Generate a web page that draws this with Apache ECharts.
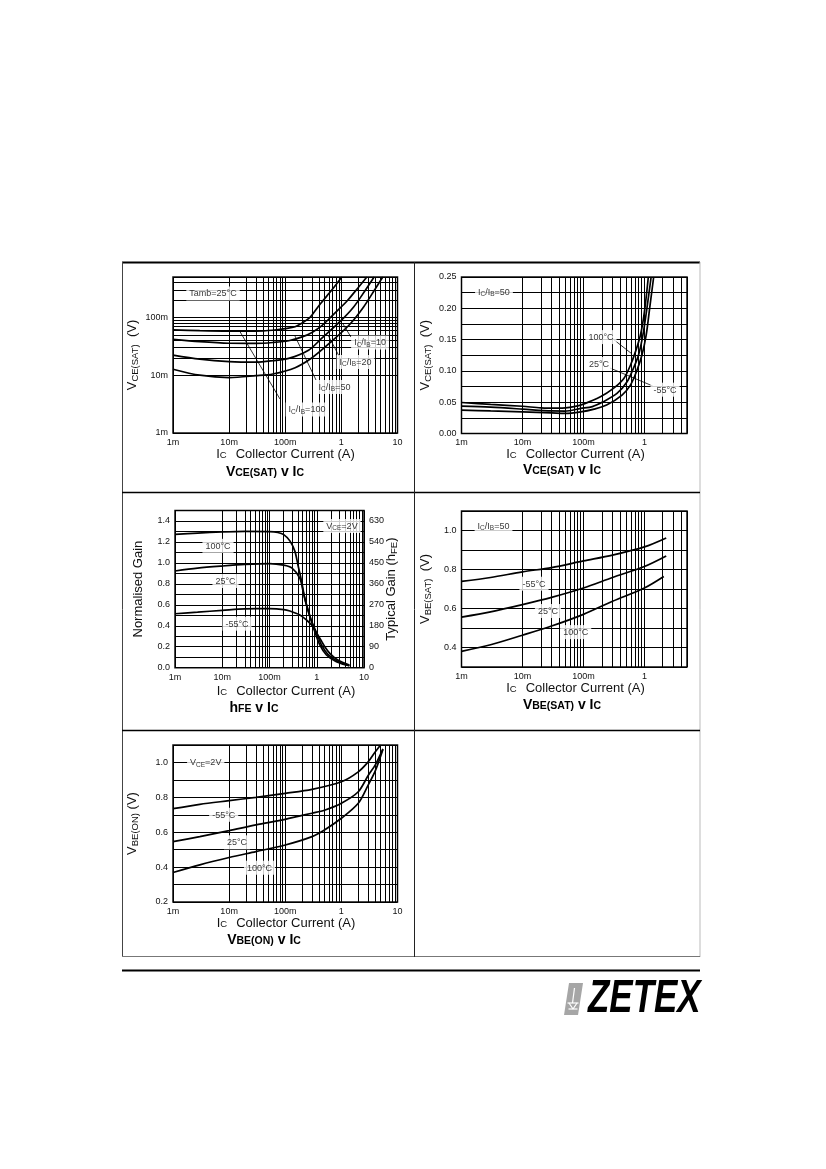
<!DOCTYPE html>
<html>
<head>
<meta charset="utf-8" />
<title>Typical characteristics</title>
<script src="https://cdn.jsdelivr.net/npm/echarts@6.0.0/dist/echarts.min.js"></script>
<style>
  html, body { margin: 0; padding: 0; background: #fff; }
  #page { width: 826px; height: 1169px; }
</style>
</head>
<body>
<div id="page"></div>
<script>
// ---- values: [Ic (A), value] ----
var decadeLabels = ['1m', '10m', '100m', '1', '10'];

// VCE(SAT) v IC, Tamb = 25°C (log / log)
var vceSatRatio100 = [[0.001,0.061],[0.003,0.059],[0.01,0.058],[0.03,0.058],[0.06,0.060],[0.1,0.064],[0.15,0.069],[0.2,0.08],[0.26,0.095],[0.3,0.11],[0.42,0.17],[0.68,0.30],[1.02,0.5]];
var vceSatRatio50 = [[0.001,0.0418],[0.003,0.038],[0.01,0.0357],[0.03,0.0355],[0.06,0.0368],[0.115,0.0395],[0.2,0.046],[0.3,0.055],[0.45,0.072],[0.72,0.112],[1.25,0.19],[2.0,0.33],[2.84,0.5]];
var vceSatRatio20 = [[0.001,0.0223],[0.003,0.019],[0.01,0.0172],[0.03,0.0168],[0.06,0.0178],[0.115,0.0195],[0.26,0.027],[0.43,0.042],[0.95,0.085],[1.64,0.15],[2.64,0.29],[3.83,0.5]];
var vceSatRatio10 = [[0.001,0.0127],[0.003,0.0100],[0.01,0.0091],[0.03,0.0098],[0.06,0.0105],[0.15,0.0135],[0.3,0.020],[0.7,0.040],[1.43,0.077],[2.47,0.15],[4.0,0.31],[5.47,0.5]];

// VCE(SAT) v IC, IC/IB = 50
var vceSatHot = [[0.001,0.0495],[0.003,0.0465],[0.01,0.0435],[0.02,0.041],[0.04,0.0405],[0.07,0.043],[0.1,0.047],[0.19,0.0586],[0.31,0.072],[0.46,0.088],[0.59,0.109],[0.71,0.13],[0.86,0.157],[1.0,0.194],[1.16,0.25]];
var vceSatRoom = [[0.001,0.0437],[0.003,0.042],[0.01,0.039],[0.03,0.036],[0.05,0.0358],[0.09,0.040],[0.14,0.043],[0.21,0.0506],[0.355,0.064],[0.52,0.0826],[0.66,0.104],[0.8,0.125],[0.945,0.157],[1.1,0.2],[1.29,0.25]];
var vceSatCold = [[0.001,0.0373],[0.003,0.036],[0.01,0.0347],[0.03,0.033],[0.05,0.032],[0.09,0.0345],[0.15,0.039],[0.24,0.0454],[0.43,0.0613],[0.59,0.0773],[0.74,0.0986],[0.91,0.125],[1.07,0.157],[1.22,0.2],[1.42,0.25]];

// hFE v IC, normalised gain
var gainHot = [[0.001,1.273],[0.003,1.285],[0.01,1.295],[0.03,1.30],[0.1,1.298],[0.15,1.29],[0.2,1.27],[0.27,1.21],[0.345,1.11],[0.40,0.98],[0.48,0.82],[0.56,0.66],[0.71,0.50],[0.91,0.344],[1.16,0.217],[1.6,0.121],[2.6,0.057],[4.9,0.019]];
var gainRoom = [[0.001,0.923],[0.003,0.95],[0.01,0.97],[0.03,0.985],[0.1,0.993],[0.2,0.978],[0.3,0.95],[0.44,0.853],[0.515,0.726],[0.605,0.598],[0.735,0.471],[1.0,0.328],[1.26,0.217],[1.72,0.128],[3.0,0.051],[4.9,0.02]];
var gainCold = [[0.001,0.515],[0.003,0.53],[0.01,0.547],[0.03,0.562],[0.1,0.563],[0.2,0.555],[0.27,0.541],[0.44,0.503],[0.605,0.455],[0.775,0.408],[0.95,0.344],[1.16,0.281],[1.48,0.2],[1.89,0.137],[2.8,0.073],[4.9,0.025]];

// VBE(SAT) v IC, IC/IB = 50
var vbeSatCold = [[0.001,0.739],[0.003,0.759],[0.01,0.788],[0.03,0.81],[0.1,0.844],[0.3,0.874],[1,0.916],[2.28,0.962]];
var vbeSatRoom = [[0.001,0.556],[0.003,0.583],[0.01,0.62],[0.03,0.657],[0.1,0.705],[0.3,0.759],[1,0.815],[2.28,0.869]];
var vbeSatHot = [[0.001,0.38],[0.003,0.414],[0.01,0.463],[0.03,0.51],[0.1,0.57],[0.3,0.637],[1,0.705],[2.08,0.764]];

// VBE(ON) v IC, VCE = 2V
var vbeOnCold = [[0.001,0.735],[0.003,0.76],[0.01,0.781],[0.03,0.80],[0.1,0.823],[0.3,0.846],[1,0.889],[2,0.946],[3,1.003],[4,1.06],[5,1.1]];
var vbeOnRoom = [[0.001,0.546],[0.003,0.575],[0.01,0.609],[0.03,0.642],[0.1,0.674],[0.3,0.709],[0.5,0.726],[1,0.766],[2,0.832],[3,0.925],[4,0.985],[5.5,1.078]];
var vbeOnHot = [[0.001,0.369],[0.003,0.413],[0.01,0.455],[0.03,0.489],[0.1,0.527],[0.3,0.575],[0.5,0.613],[1,0.68],[2,0.766],[3,0.87],[4,0.95],[5.5,1.075]];

// in-plot notes: [Ic, value] anchor and text
var notes1 = [
  { at: [0.00516, 0.259], text: 'Tamb=25°C' },
  { at: [3.24, 0.0368], text: 'I{s|C}/I{s|B}=10' },
  { at: [1.785, 0.0169], text: 'I{s|C}/I{s|B}=20' },
  { at: [0.754, 0.00625], text: 'I{s|C}/I{s|B}=50' },
  { at: [0.244, 0.00255], text: 'I{s|C}/I{s|B}=100' }
];
var leaders1 = [
  [[0.0150, 0.0605], [0.0806, 0.00387]],
  [[0.149, 0.0476], [0.353, 0.00826]],
  [[0.578, 0.0496], [0.907, 0.0215]],
  [[1.07, 0.0769], [1.48, 0.0458]]
];
var notes2 = [
  { at: [0.00341, 0.226], text: 'I{s|C}/I{s|B}=50' },
  { at: [0.194, 0.154], text: '100°C' },
  { at: [0.180, 0.111], text: '25°C' },
  { at: [2.18, 0.070], text: '-55°C' }
];
var leaders2 = [
  [[0.309, 0.1505], [0.619, 0.1275]],
  [[0.273, 0.1046], [1.37, 0.0759]]
];
var notes3 = [
  { at: [0.00813, 1.163], text: '100°C' },
  { at: [0.01172, 0.827], text: '25°C' },
  { at: [0.0205, 0.42], text: '-55°C' },
  { at: [3.42, 1.352], text: 'V{s|CE}=2V' }
];
var notes4 = [
  { at: [0.00335, 1.024], text: 'I{s|C}/I{s|B}=50' },
  { at: [0.01545, 0.727], text: '-55°C' },
  { at: [0.0262, 0.587], text: '25°C' },
  { at: [0.0747, 0.479], text: '100°C' }
];
var notes5 = [
  { at: [0.00383, 1.0], text: 'V{s|CE}=2V' },
  { at: [0.008, 0.70], text: '-55°C' },
  { at: [0.0138, 0.542], text: '25°C' },
  { at: [0.0348, 0.397], text: '100°C' }
];

var fontFamily = '"Liberation Sans", Arial, Helvetica, sans-serif';
var ink = '#111';

// ---- helpers ----
function decadeLabel(v) {
  var e = Math.log10(v);
  var r = Math.round(e);
  if (Math.abs(e - r) > 1e-6) return '';
  return decadeLabels[r + 3] || '';
}

function stepLabel(step, digits) {
  return function (v) {
    var n = Math.round(v / step);
    return n % 2 === 0 ? v.toFixed(digits) : '';
  };
}

// 2..9 lines inside each decade
function logMinors(lo, hi) {
  var out = [];
  for (var e = -3; e <= 1; e++) {
    for (var k = 2; k <= 9; k++) {
      var v = +(k * Math.pow(10, e)).toPrecision(3);
      if (v > lo * 1.0001 && v < hi * 0.9999) out.push(v);
    }
  }
  return out;
}

var subRich = { s: { fontSize: 9.5, lineHeight: 10, verticalAlign: 'bottom', fontFamily: fontFamily, color: ink } };

function xLog(gi, max) {
  return {
    gridIndex: gi, type: 'log', logBase: 10, min: 0.001, max: max,
    axisLine: { show: false }, axisTick: { show: false },
    splitLine: { show: true, lineStyle: { color: '#000', width: 1 } },
    axisLabel: { fontFamily: fontFamily, fontSize: 9, color: ink, margin: 5, formatter: decadeLabel }
  };
}

function yName(text, gap) {
  return {
    name: text, nameLocation: 'middle', nameGap: gap, nameRotate: 90, nameMoveOverlap: false,
    nameTextStyle: { fontFamily: fontFamily, fontSize: 13, lineHeight: 16, color: ink, rich: subRich }
  };
}

function yValue(gi, min, max, step, digits, name, gap, pos) {
  var a = {
    gridIndex: gi, type: 'value', min: min, max: max, interval: step, position: pos || 'left',
    axisLine: { show: false }, axisTick: { show: false },
    splitLine: { show: pos !== 'right', lineStyle: { color: '#000', width: 1 } },
    axisLabel: { fontFamily: fontFamily, fontSize: 9, color: ink, margin: 5, formatter: stepLabel(step, digits) }
  };
  return Object.assign(a, yName(name, gap));
}

function gridLines(xi, yi, xs, ys) {
  var d = xs.map(function (v) { return { xAxis: v }; })
    .concat(ys.map(function (v) { return { yAxis: v }; }));
  return {
    type: 'line', xAxisIndex: xi, yAxisIndex: yi, data: [], z: 1, silent: true,
    markLine: {
      silent: true, symbol: ['none', 'none'], animation: false,
      label: { show: false }, emphasis: { disabled: true },
      lineStyle: { color: '#000', width: 1, type: 'solid', opacity: 1 },
      data: d
    }
  };
}

function curve(xi, yi, data) {
  return {
    type: 'line', xAxisIndex: xi, yAxisIndex: yi, data: data, z: 3, silent: true,
    showSymbol: false, symbol: 'none', smooth: 0.3,
    lineStyle: { color: '#000', width: 1.7 }
  };
}

function notes(xi, yi, list, leaders) {
  var s = {
    type: 'scatter', xAxisIndex: xi, yAxisIndex: yi, z: 5, silent: true,
    symbolSize: 0, itemStyle: { color: '#fff' },
    data: list.map(function (n) { return { value: n.at, label: { formatter: n.text } }; }),
    label: {
      show: true, position: 'inside', fontFamily: fontFamily, fontSize: 9, lineHeight: 11,
      color: '#000', backgroundColor: '#fff', padding: [2, 3, 1, 3],
      rich: { s: { fontSize: 6.5, lineHeight: 7, verticalAlign: 'bottom', fontFamily: fontFamily, color: '#000' } }
    }
  };
  if (leaders) {
    s.markLine = {
      silent: true, symbol: ['none', 'none'], animation: false,
      label: { show: false }, emphasis: { disabled: true },
      lineStyle: { color: '#000', width: 0.8, type: 'solid', opacity: 1 },
      data: leaders.map(function (l) { return [{ coord: l[0] }, { coord: l[1] }]; })
    };
  }
  return s;
}

// captions under each plot
function caption(cx, cy) {
  return {
    type: 'text', x: cx, y: cy, silent: true,
    style: {
      text: 'I{s|C}{v|Collector Current (A)}', align: 'center', verticalAlign: 'middle',
      fontFamily: fontFamily, fontSize: 13, fill: ink,
      rich: {
        s: { fontSize: 9.5, lineHeight: 10, verticalAlign: 'bottom', fontFamily: fontFamily, fill: ink },
        v: { fontSize: 13, padding: [0, 0, 0, 9], fontFamily: fontFamily, fill: ink }
      }
    }
  };
}
function heading(cx, cy, text) {
  return {
    type: 'text', x: cx, y: cy, silent: true,
    style: {
      text: text, align: 'center', verticalAlign: 'middle',
      fontFamily: fontFamily, fontSize: 14, fontWeight: 'bold', fill: '#000',
      rich: {
        s: { fontSize: 10.5, fontWeight: 'bold', lineHeight: 11, verticalAlign: 'bottom', fontFamily: fontFamily, fill: '#000' },
        b: { fontSize: 14, fontWeight: 'bold', fontFamily: fontFamily, fill: '#000' }
      }
    }
  };
}
function rule(x1, y1, x2, y2, w, c) {
  return { type: 'line', silent: true, shape: { x1: x1, y1: y1, x2: x2, y2: y2 }, style: { stroke: c, lineWidth: w } };
}

var chart = echarts.init(document.getElementById('page'), null, { renderer: 'canvas', width: 826, height: 1169 });

var gridBase = { show: true, borderColor: '#111', borderWidth: 1.5, backgroundColor: 'transparent', containLabel: false, outerBoundsMode: 'none' };

chart.setOption({
  animation: false,
  backgroundColor: '#fff',
  grid: [
    Object.assign({ left: 173, top: 277, width: 224.5, height: 156 }, gridBase),
    Object.assign({ left: 461.5, top: 277, width: 225.5, height: 156.5 }, gridBase),
    Object.assign({ left: 175, top: 510.5, width: 189, height: 157.2 }, gridBase),
    Object.assign({ left: 461.5, top: 511, width: 225.5, height: 156 }, gridBase),
    Object.assign({ left: 173, top: 745, width: 224.5, height: 157 }, gridBase)
  ],
  xAxis: [xLog(0, 10), xLog(1, 5), xLog(2, 10), xLog(3, 5), xLog(4, 10)],
  yAxis: [
    Object.assign({
      gridIndex: 0, type: 'log', logBase: 10, min: 0.001, max: 0.5,
      axisLine: { show: false }, axisTick: { show: false },
      splitLine: { show: true, lineStyle: { color: '#000', width: 1 } },
      axisLabel: { fontFamily: fontFamily, fontSize: 9, color: ink, margin: 5, formatter: decadeLabel }
    }, yName('V{s|CE(SAT)}  (V)', 33)),
    yValue(1, 0, 0.25, 0.025, 2, 'V{s|CE(SAT)}  (V)', 28),
    yValue(2, 0, 1.5, 0.1, 1, 'Normalised Gain', 29),
    yValue(2, 0, 675, 45, 0, 'Typical Gain (h{s|FE})', 19, 'right'),
    yValue(3, 0.3, 1.1, 0.1, 1, 'V{s|BE(SAT)}  (V)', 28),
    yValue(4, 0.2, 1.1, 0.1, 1, 'V{s|BE(ON)} (V)', 33)
  ],
  series: [
    gridLines(0, 0, logMinors(0.001, 10), logMinors(0.001, 0.5)),
    curve(0, 0, vceSatRatio100), curve(0, 0, vceSatRatio50), curve(0, 0, vceSatRatio20), curve(0, 0, vceSatRatio10),
    notes(0, 0, notes1, leaders1),

    gridLines(1, 1, logMinors(0.001, 5), []),
    curve(1, 1, vceSatHot), curve(1, 1, vceSatRoom), curve(1, 1, vceSatCold),
    notes(1, 1, notes2, leaders2),

    gridLines(2, 2, logMinors(0.001, 10), []),
    curve(2, 2, gainHot), curve(2, 2, gainRoom), curve(2, 2, gainCold),
    notes(2, 2, notes3),

    gridLines(3, 4, logMinors(0.001, 5), []),
    curve(3, 4, vbeSatCold), curve(3, 4, vbeSatRoom), curve(3, 4, vbeSatHot),
    notes(3, 4, notes4),

    gridLines(4, 5, logMinors(0.001, 10), []),
    curve(4, 5, vbeOnCold), curve(4, 5, vbeOnRoom), curve(4, 5, vbeOnHot),
    notes(4, 5, notes5)
  ],
  graphic: [
    // page frame
    rule(122, 262.5, 700, 262.5, 2, '#000'),
    rule(122.5, 262, 122.5, 957, 1, '#444'),
    rule(700, 262, 700, 957, 1, '#bbb'),
    rule(122, 956.5, 700, 956.5, 1, '#777'),
    rule(122, 492.5, 700, 492.5, 1.5, '#000'),
    rule(122, 730.5, 700, 730.5, 1.5, '#000'),
    rule(414.5, 262, 414.5, 957, 1, '#222'),
    rule(122, 970.5, 700, 970.5, 2, '#000'),

    caption(285.5, 454), heading(265, 472, '{b|V}{s|CE(SAT)}{b| v I}{s|C}'),
    caption(575.5, 454), heading(562, 470, '{b|V}{s|CE(SAT)}{b| v I}{s|C}'),
    caption(286, 691), heading(254, 708, '{b|h}{s|FE}{b| v I}{s|C}'),
    caption(575.5, 688), heading(562, 705, '{b|V}{s|BE(SAT)}{b| v I}{s|C}'),
    caption(286, 923), heading(264, 940, '{b|V}{s|BE(ON)}{b| v I}{s|C}'),

    // logo
    {
      type: 'polygon', silent: true,
      shape: { points: [[569, 983], [583, 983], [578, 1015], [564, 1015]] },
      style: { fill: '#a6a6a6' }
    },
    rule(574.5, 988, 572.5, 1003, 1.2, '#fff'),
    rule(567.5, 1003, 578.5, 1003, 1.2, '#fff'),
    rule(568.5, 1009, 577.5, 1009, 1.2, '#fff'),
    rule(569, 1003, 573, 1009, 1.2, '#fff'),
    rule(577, 1003, 573, 1009, 1.2, '#fff'),
    {
      type: 'text', x: 588, y: 999, scaleX: 0.76, silent: true,
      style: {
        text: 'ZETEX', fontFamily: fontFamily, fontSize: 46, fontWeight: 'bold', fontStyle: 'italic',
        fill: '#000', align: 'left', verticalAlign: 'middle'
      }
    }
  ]
});
</script>
</body>
</html>
